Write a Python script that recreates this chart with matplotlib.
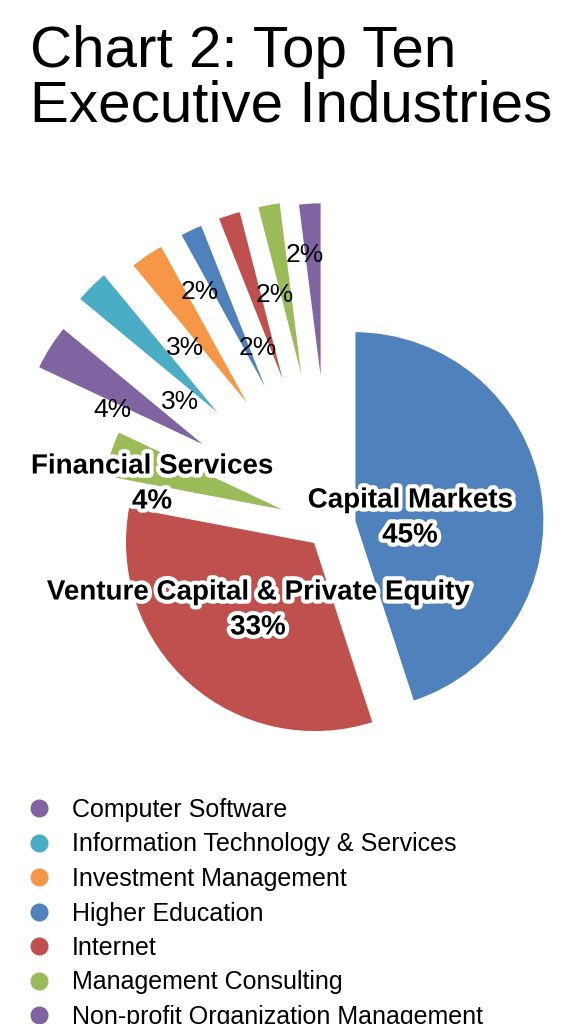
import matplotlib.pyplot as plt
import matplotlib.patheffects as pe
from matplotlib.lines import Line2D

plt.rcParams['font.family'] = ['Liberation Sans', 'DejaVu Sans']

industries = ["Capital Markets", "Venture Capital & Private Equity", "Financial Services",
              "Computer Software", "Information Technology & Services", "Investment Management",
              "Higher Education", "Internet", "Management Consulting",
              "Non-profit Organization Management"]
shares = [45, 33, 4, 4, 3, 3, 2, 2, 2, 2]
colors = ["#4F81BD", "#C0504D", "#9BBB59", "#8064A2", "#4BACC6", "#F79646",
          "#4F81BD", "#C0504D", "#9BBB59", "#8064A2"]
explode = [0.13, 0.12, 0.22, 0.75, 0.78, 0.72, 0.72, 0.72, 0.72, 0.70]

W, H = 567, 1024
R = 190.0
CX, CY = 330, 525


def px(x, y):
    return (x - CX) / R, (CY - y) / R


fig = plt.figure(figsize=(W / 100, H / 100), dpi=100)
ax = fig.add_axes([0, 0, 1, 1])

ax.pie(shares, colors=colors, explode=explode, startangle=90, counterclock=False,
       radius=1.0, shadow=False,
       wedgeprops=dict(edgecolor="white", linewidth=1.5))

ax.set_xlim(-CX / R, (W - CX) / R)
ax.set_ylim(-(H - CY) / R, CY / R)
ax.set_aspect("equal")
ax.axis("off")

glow = [pe.withStroke(linewidth=6, foreground="white")]
big = [("Capital Markets\n45%", (410, 518)),
       ("Venture Capital & Private Equity\n33%", (258, 610)),
       ("Financial Services\n4%", (152, 484))]
for txt, (x, y) in big:
    ax.text(*px(x, y), txt, ha="center", va="center", fontsize=20, fontweight="bold",
            linespacing=1.45, path_effects=glow)

small_pos = [(112, 410), (180, 402), (185, 348), (200, 292), (258, 348), (275, 295), (305, 255)]
for s, (x, y) in zip(shares[3:], small_pos):
    ax.text(*px(x, y), f"{s}%", ha="center", va="center", fontsize=19)

fig.text(30 / W, 1 - 25 / H, "Chart 2: Top Ten\nExecutive Industries", ha="left", va="top",
         fontsize=42, linespacing=1.0)

handles = [Line2D([], [], marker="o", linestyle="", markersize=12, color=c)
           for c in colors[3:]]
fig.legend(handles, industries[3:], loc="upper left", bbox_to_anchor=(14 / W, 1 - 788 / H),
           frameon=False, fontsize=18, handletextpad=0.7, labelspacing=0.42,
           borderaxespad=0, handlelength=1.2)

fig.savefig("out.png", dpi=100)
